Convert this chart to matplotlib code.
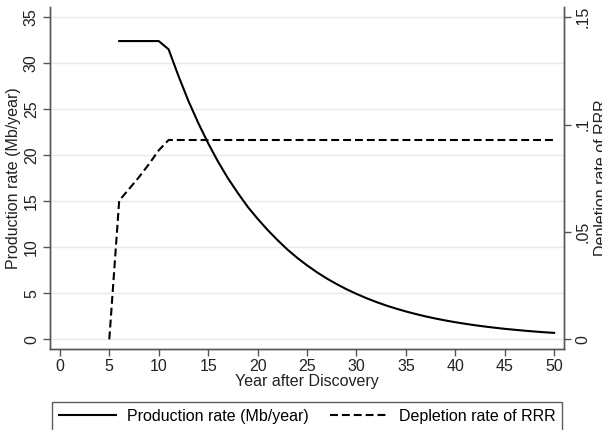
import matplotlib
matplotlib.use("Agg")
import matplotlib.pyplot as plt

plt.rcParams['font.family'] = ['Liberation Sans', 'DejaVu Sans']

# Production rate (Mb/year), one value per year after discovery
prod_years = list(range(6, 51))
prod_rate = [32.4, 32.4, 32.4, 32.4, 32.4,
             31.5, 28.6, 25.9, 23.5, 21.3, 19.3, 17.5, 15.9, 14.4, 13.1,
             11.9, 10.8, 9.77, 8.86, 8.04, 7.29, 6.61, 6.00, 5.44, 4.94,
             4.48, 4.06, 3.68, 3.34, 3.03, 2.75, 2.49, 2.26, 2.05, 1.86,
             1.69, 1.53, 1.39, 1.26, 1.14, 1.04, 0.94, 0.85, 0.77, 0.70]

# Depletion rate of remaining recoverable reserves
depl_years = list(range(5, 51))
depl_rate = [0.0, 0.0646, 0.0700, 0.0755, 0.0815, 0.0880] + [0.0928] * 40

left_ticks = [0, 5, 10, 15, 20, 25, 30, 35]
right_ticks = [0, 0.05, 0.1, 0.15]
right_labels = ['0', '.05', '.1', '.15']
x_ticks = list(range(0, 51, 5))

fs = 11.5
txt_col = '#222222'

fig = plt.figure(figsize=(6.02, 4.30), dpi=100)
ax = fig.add_axes([50 / 602, 1 - 349 / 430, 514 / 602, 342 / 430])
ax2 = ax.twinx()

ymin, ymax = -1.05, 36.1
ax.set_xlim(-1, 51)
ax.set_ylim(ymin, ymax)
ax2.set_ylim(ymin * 0.15 / 35, ymax * 0.15 / 35)

ax.set_yticks(left_ticks)
ax.set_yticklabels([str(t) for t in left_ticks], rotation=90, va='center')
ax.set_xticks(x_ticks)
ax2.set_yticks(right_ticks)
ax2.set_yticklabels(right_labels, rotation=90, va='center')

for t in left_ticks:
    ax.axhline(t, color='#e8e8e8', lw=1.0, zorder=0)

l1, = ax.plot(prod_years, prod_rate, color='black', lw=1.5,
              label='Production rate (Mb/year)')
l2, = ax2.plot(depl_years, depl_rate, color='black', lw=1.5,
               dashes=(3.8, 1.9), label='Depletion rate of RRR')

spine_col = '#555555'
for a in (ax, ax2):
    a.spines['top'].set_visible(False)
    for s in ('left', 'right', 'bottom'):
        a.spines[s].set_color(spine_col)
        a.spines[s].set_linewidth(1.0)
    a.tick_params(colors=spine_col, labelcolor=txt_col, length=5,
                  width=1.0, labelsize=fs)
ax.tick_params(axis='y', pad=3)
ax2.tick_params(axis='y', pad=3)
ax.tick_params(axis='x', pad=2)

ax.set_xlabel('Year after Discovery', fontsize=fs, color=txt_col, labelpad=0)
ax.set_ylabel('Production rate (Mb/year)', fontsize=fs, color=txt_col, labelpad=2)
ax2.set_ylabel('Depletion rate of RRR', fontsize=fs, color=txt_col,
               rotation=90, labelpad=3)

leg = fig.legend(handles=[l1, l2], loc='upper center', ncol=2,
                 bbox_to_anchor=(307 / 602, 1 - 397 / 430),
                 fontsize=fs, frameon=True, fancybox=False,
                 handlelength=3.6, handletextpad=0.7, borderpad=0.45,
                 borderaxespad=0.3, columnspacing=1.3)
leg.get_frame().set_edgecolor('#333333')
leg.get_frame().set_linewidth(1.0)

fig.savefig('out.png', dpi=100)
